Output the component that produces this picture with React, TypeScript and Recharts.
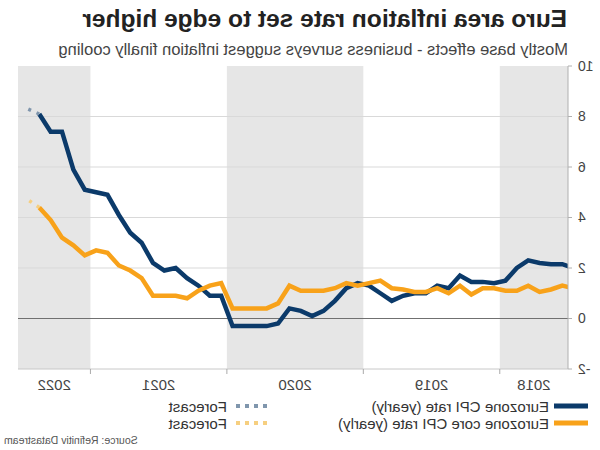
import { LineChart, Line, XAxis, YAxis, ReferenceArea, ReferenceLine } from "recharts";

// monthly, Jun 2018 .. Jun 2022
const months = [
  "Jun 18", "Jul 18", "Aug 18", "Sep 18", "Oct 18", "Nov 18", "Dec 18",
  "Jan 19", "Feb 19", "Mar 19", "Apr 19", "May 19", "Jun 19", "Jul 19", "Aug 19", "Sep 19", "Oct 19", "Nov 19", "Dec 19",
  "Jan 20", "Feb 20", "Mar 20", "Apr 20", "May 20", "Jun 20", "Jul 20", "Aug 20", "Sep 20", "Oct 20", "Nov 20", "Dec 20",
  "Jan 21", "Feb 21", "Mar 21", "Apr 21", "May 21", "Jun 21", "Jul 21", "Aug 21", "Sep 21", "Oct 21", "Nov 21", "Dec 21",
  "Jan 22", "Feb 22", "Mar 22", "Apr 22", "May 22", "Jun 22",
];

const cpi = [
  2.0, 2.15, 2.15, 2.2, 2.3, 2.0, 1.5,
  1.4, 1.45, 1.45, 1.7, 1.2, 1.3, 1.0, 1.0, 0.9, 0.7, 1.0, 1.3,
  1.4, 1.2, 0.7, 0.3, 0.1, 0.3, 0.4, -0.2, -0.3, -0.3, -0.3, -0.3,
  0.9, 0.9, 1.3, 1.6, 2.0, 1.9, 2.2, 3.0, 3.4, 4.1, 4.9, 5.0,
  5.1, 5.9, 7.4, 7.4, 8.1,
];

const core = [
  1.2, 1.3, 1.15, 1.05, 1.3, 1.1, 1.1,
  1.2, 1.2, 0.95, 1.3, 1.0, 1.2, 1.05, 1.05, 1.15, 1.2, 1.5, 1.4,
  1.3, 1.4, 1.2, 1.1, 1.1, 1.1, 1.3, 0.6, 0.4, 0.4, 0.4, 0.4,
  1.4, 1.3, 1.1, 0.8, 0.9, 0.9, 0.9, 1.6, 1.9, 2.1, 2.6, 2.7,
  2.5, 2.9, 3.2, 3.9, 4.4,
];

const cpiForecast = [8.3];
const coreForecast = [4.7];

const years = ["2018", "2019", "2020", "2021", "2022"];
const yTicks = [-2, 0, 2, 4, 6, 8, 10];

const NAVY = "#0b3a6a";
const ORANGE = "#f8a21a";
const NAVY_F = "#8096ad";
const ORANGE_F = "#f6cf80";
const FONT = '"Liberation Sans", Arial, sans-serif';

// x = month offset from Jul 2018 (Jun 2018 = -1)
const data = months.map((m, k) => {
  const last = cpi.length - 1;
  return {
    m: k - 1,
    label: m,
    cpi: k <= last ? cpi[k] : null,
    core: k <= last ? core[k] : null,
    cpiF: k === last ? cpi[last] : k === last + 1 ? cpiForecast[0] : null,
    coreF: k === last ? core[last] : k === last + 1 ? coreForecast[0] : null,
  };
});

const X_MIN = -0.5;
const X_MAX = 47.87;

// year boundaries sit half-way between Dec and Jan
const bounds = data.filter((d) => d.label.startsWith("Jan")).map((d) => d.m - 0.5);
const edges = [X_MIN, ...bounds, X_MAX];
const centers = years.map((_, i) => (edges[i] + edges[i + 1]) / 2);

const YearTick = (props: any) => {
  const { x, y, payload } = props;
  const ci = centers.indexOf(payload.value);
  if (ci >= 0) {
    return (
      <text x={x} y={y + 21} textAnchor="middle" fontSize={15} fill="#444" fontFamily={FONT}>
        {years[ci]}
      </text>
    );
  }
  return <line x1={x} x2={x} y1={y} y2={y + 5} stroke="#aaa" />;
};

function LegendSwatch({ color, dotted }: { color: string; dotted?: boolean }) {
  return (
    <svg width={dotted ? 32 : 34} height={6} style={{ display: "block" }}>
      <line
        x1={0}
        x2={dotted ? 32 : 34}
        y1={3}
        y2={3}
        stroke={color}
        strokeWidth={dotted ? 4 : 5}
        strokeDasharray={dotted ? "4 5" : undefined}
      />
    </svg>
  );
}

export default function App() {
  const legendText = { fontSize: 15, color: "#333", fontFamily: FONT, lineHeight: "15px", whiteSpace: "nowrap" as const };
  return (
    <div
      style={{
        position: "absolute",
        left: 0,
        top: 0,
        width: 600,
        height: 450,
        overflow: "hidden",
        background: "#fff",
        transform: "scaleX(-1)",
        fontFamily: FONT,
      }}
    >
      <div style={{ position: "absolute", left: 33, top: 7, fontSize: 24.5, fontWeight: "bold", lineHeight: "24px", color: "#222", whiteSpace: "nowrap" }}>
        Euro area inflation rate set to edge higher
      </div>
      <div style={{ position: "absolute", left: 32, top: 41, fontSize: 16.5, lineHeight: "16px", color: "#444", whiteSpace: "nowrap" }}>
        Mostly base effects - business surveys suggest inflation finally cooling
      </div>

      <LineChart
        width={600}
        height={400}
        data={data}
        margin={{ top: 66, right: 18, bottom: 1, left: 0 }}
        style={{ position: "absolute", left: 0, top: 0 }}
      >
        {[0, 2, 4].map((i) => (
          <ReferenceArea key={years[i]} x1={edges[i]} x2={edges[i + 1]} fill="#e6e6e6" fillOpacity={1} stroke="none" />
        ))}
        {[2, 4, 6, 8].map((v) => (
          <ReferenceLine key={v} y={v} stroke="#d9d9d9" strokeWidth={1} />
        ))}
        <ReferenceLine y={0} stroke="#707070" strokeWidth={1} />
        <XAxis
          type="number"
          dataKey="m"
          domain={[X_MIN, X_MAX]}
          allowDataOverflow
          ticks={[...centers, ...bounds]}
          interval={0}
          tick={<YearTick />}
          tickLine={false}
          tickSize={0}
          tickMargin={0}
          axisLine={{ stroke: "#c8c8c8" }}
          height={30}
        />
        <YAxis
          domain={[-2, 10]}
          ticks={yTicks}
          interval={0}
          width={32}
          tickSize={4}
          tickMargin={6}
          axisLine={{ stroke: "#b0b0b0" }}
          tickLine={{ stroke: "#b0b0b0" }}
          tick={{ fontSize: 14, fill: "#444", fontFamily: FONT }}
        />
        <Line type="linear" dataKey="cpi" stroke={NAVY} strokeWidth={4.5} dot={false} isAnimationActive={false} />
        <Line type="linear" dataKey="cpiF" stroke={NAVY_F} strokeWidth={3.5} strokeDasharray="3 6" dot={false} isAnimationActive={false} />
        <Line type="linear" dataKey="core" stroke={ORANGE} strokeWidth={4.5} dot={false} isAnimationActive={false} />
        <Line type="linear" dataKey="coreF" stroke={ORANGE_F} strokeWidth={3.5} strokeDasharray="3 6" dot={false} isAnimationActive={false} />
      </LineChart>

      <div style={{ position: "absolute", left: 12, top: 403 }}>
        <LegendSwatch color={NAVY} />
      </div>
      <div style={{ ...legendText, position: "absolute", left: 51, top: 399 }}>Eurozone CPI rate (yearly)</div>
      <div style={{ position: "absolute", left: 12, top: 420 }}>
        <LegendSwatch color={ORANGE} />
      </div>
      <div style={{ ...legendText, position: "absolute", left: 51, top: 416 }}>Eurozone core CPI rate (yearly)</div>

      <div style={{ position: "absolute", left: 333, top: 403 }}>
        <LegendSwatch color={NAVY_F} dotted />
      </div>
      <div style={{ ...legendText, position: "absolute", left: 373, top: 399 }}>Forecast</div>
      <div style={{ position: "absolute", left: 333, top: 420 }}>
        <LegendSwatch color={ORANGE_F} dotted />
      </div>
      <div style={{ ...legendText, position: "absolute", left: 373, top: 416 }}>Forecast</div>

      <div style={{ position: "absolute", right: 4, top: 435, fontSize: 10.5, lineHeight: "11px", color: "#555", whiteSpace: "nowrap" }}>
        Source: Refinitiv Datastream
      </div>
    </div>
  );
}
